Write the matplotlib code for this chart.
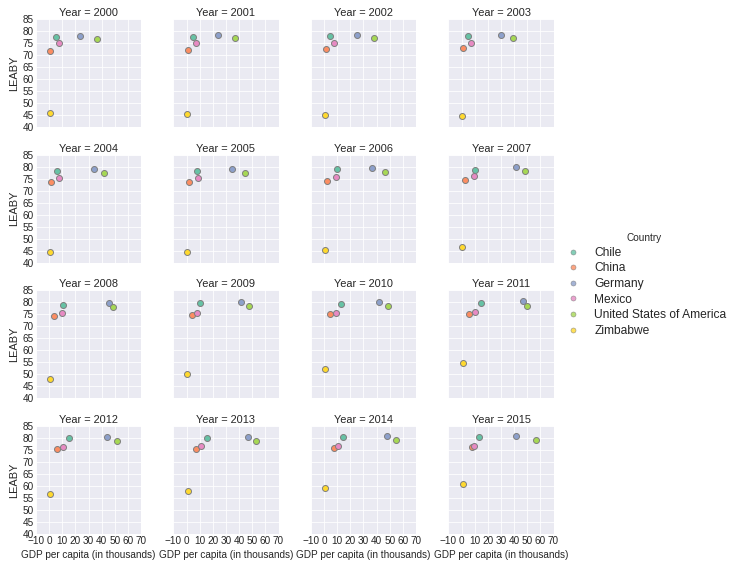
import numpy as np
import matplotlib
matplotlib.use("Agg")
import matplotlib.pyplot as plt
import seaborn as sns

years = list(range(2000, 2016))
countries = ["Chile", "China", "Germany", "Mexico",
             "United States of America", "Zimbabwe"]

# GDP per capita (thousands), one list per country, 2000..2015
gdp_chile = [5.1, 4.6, 4.4, 4.8, 6.2, 7.6, 9.5, 10.5, 10.8, 10.2, 12.8, 14.6, 15.4, 15.8, 14.7, 13.6]
gdp_china = [1.0, 1.05, 1.15, 1.3, 1.5, 1.75, 2.1, 2.7, 3.5, 3.8, 4.5, 5.6, 6.3, 7.0, 7.6, 8.0]
gdp_germany = [23.6, 23.6, 25.2, 30.3, 34.1, 34.5, 36.3, 41.6, 45.6, 41.5, 41.5, 46.6, 43.9, 46.5, 48.0, 41.3]
gdp_mexico = [7.2, 7.5, 7.6, 7.2, 7.6, 8.3, 9.1, 9.6, 10.0, 8.0, 9.3, 10.2, 10.2, 10.7, 10.9, 9.6]
gdp_usa = [36.3, 37.1, 38.0, 39.5, 41.7, 44.1, 46.3, 48.0, 48.6, 47.2, 48.6, 50.1, 51.6, 53.1, 55.0, 56.8]
gdp_zimbabwe = [0.56, 0.56, 0.54, 0.48, 0.47, 0.44, 0.43, 0.40, 0.33, 0.65, 0.72, 0.84, 0.95, 1.03, 1.03, 1.03]

# life expectancy at birth (years)
le_chile = [77.3, 77.3, 77.8, 77.9, 78.0, 78.4, 78.9, 78.7, 78.9, 79.6, 79.3, 79.8, 79.9, 80.1, 80.3, 80.5]
le_china = [71.7, 72.2, 72.7, 73.1, 73.5, 73.8, 74.2, 74.4, 74.5, 74.9, 75.0, 75.2, 75.4, 75.6, 75.8, 76.1]
le_germany = [78.0, 78.3, 78.4, 78.5, 79.1, 79.2, 79.6, 79.8, 79.9, 80.0, 80.1, 80.5, 80.6, 80.6, 80.9, 81.0]
le_mexico = [74.8, 75.0, 75.0, 75.0, 75.4, 75.3, 75.8, 76.0, 75.6, 75.7, 75.6, 75.8, 76.1, 76.5, 76.6, 76.7]
le_usa = [76.8, 76.9, 77.0, 77.2, 77.5, 77.5, 77.8, 78.1, 78.2, 78.5, 78.7, 78.7, 78.8, 78.9, 79.1, 79.3]
le_zimbabwe = [46.0, 45.3, 44.8, 44.5, 44.3, 44.6, 45.4, 46.6, 48.2, 50.0, 52.4, 54.9, 56.6, 58.0, 59.2, 60.7]

gdp = [gdp_chile, gdp_china, gdp_germany, gdp_mexico, gdp_usa, gdp_zimbabwe]
leaby = [le_chile, le_china, le_germany, le_mexico, le_usa, le_zimbabwe]

sns.set_style("darkgrid")
plt.rcParams["font.family"] = ["Liberation Sans", "DejaVu Sans"]
colors = sns.color_palette("Set2", len(countries))

W, H = 738, 568
fig = plt.figure(figsize=(W / 72, H / 72), dpi=72)

left0, width = 36 / W, 105 / W
step_x = 137.5 / W
top0, height = 1 - 19 / H, 108 / H
step_y = 135.7 / H

for k, year in enumerate(years):
    row, col = divmod(k, 4)
    ax = fig.add_axes([left0 + col * step_x, top0 - row * step_y - height, width, height])
    for c in range(len(countries)):
        ax.scatter(gdp[c][k], leaby[c][k], s=36, color=colors[c],
                   edgecolor="gray", linewidth=1, zorder=3)
    ax.set_xlim(-10, 70)
    ax.set_ylim(40, 85)
    ax.set_xticks(np.arange(-10, 71, 10))
    ax.set_yticks(np.arange(40, 86, 5))
    ax.tick_params(length=0, labelsize=10, pad=2)
    ax.set_title(f"Year = {year}", fontsize=11, pad=3)
    if col == 0:
        ax.set_ylabel("LEABY", fontsize=11)
    else:
        ax.set_yticklabels([])
    if row == 3:
        ax.set_xlabel("GDP per capita (in thousands)", fontsize=10)
    else:
        ax.set_xticklabels([])

handles = [plt.Line2D([], [], marker="o", linestyle="", markersize=5,
                      markerfacecolor=colors[c], markeredgecolor="gray",
                      markeredgewidth=0.6, alpha=0.8)
           for c in range(len(countries))]
leg = fig.legend(handles, countries, title="Country", loc="center left",
                 bbox_to_anchor=(550 / W, 1 - 285 / H), frameon=False,
                 fontsize=12, title_fontsize=10, handletextpad=0.8,
                 labelspacing=0.3)

fig.savefig("out.png", dpi=72)
